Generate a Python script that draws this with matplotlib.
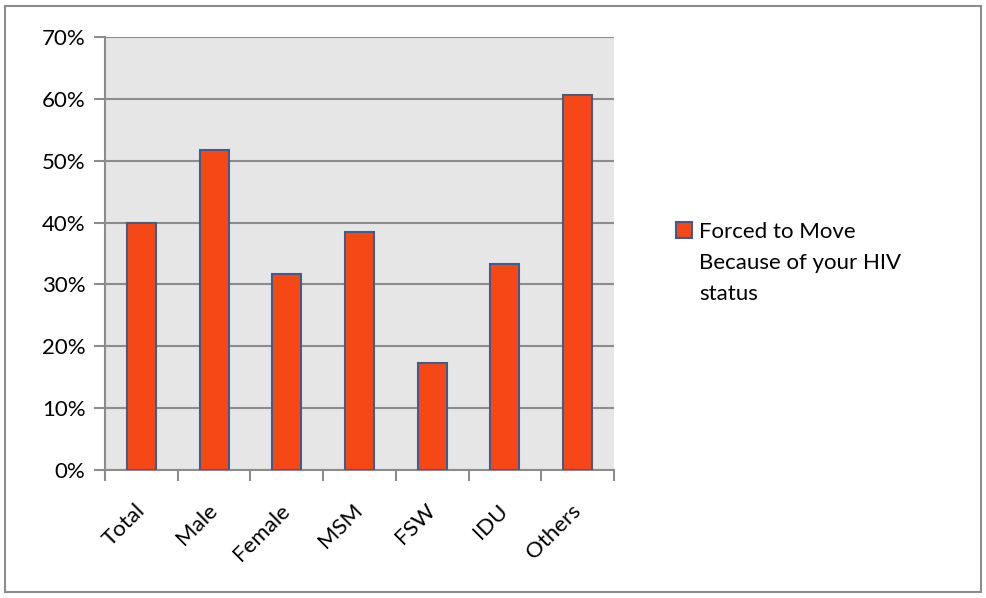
import matplotlib
matplotlib.use("Agg")
import matplotlib.pyplot as plt
from matplotlib.patches import Rectangle
from matplotlib.ticker import FixedLocator, PercentFormatter

categories = ["Total", "Male", "Female", "MSM", "FSW", "IDU", "Others"]
values = [40.0, 51.7, 31.7, 38.5, 17.3, 33.3, 60.6]
yticks = [0, 10, 20, 30, 40, 50, 60, 70]
series_lines = ["Forced to Move", "Because of your HIV", "status"]

plt.rcParams['font.family'] = ['Lato', 'DejaVu Sans']
FS = 16

fig = plt.figure(figsize=(9.87, 5.98), dpi=100)
fig.patches.append(Rectangle((5/987, 6/598), 976/987, 586/598, transform=fig.transFigure,
                             fill=False, edgecolor="#8c8c8c", linewidth=1.5))
ax = fig.add_axes([105/987, (598-470)/598, 509/987, 433/598])
ax.set_facecolor("#e6e6e6")

x = list(range(len(categories)))
ax.bar(x, values, width=0.4, color="#f64817", edgecolor="#3e5d8c", linewidth=1.5,
       label=series_lines[0], zorder=3)

ax.set_xlim(-0.5, len(categories) - 0.5)
ax.set_ylim(0, 70)
ax.set_yticks(yticks)
ax.yaxis.set_major_formatter(PercentFormatter(decimals=0))
ax.yaxis.grid(True, color="#8c8c8c", linewidth=1.5, zorder=1)
ax.set_xticks(x)
ax.set_xticklabels(categories, rotation=45, ha="right", va="center", rotation_mode="anchor")
ax.tick_params(axis="x", which="major", length=0, pad=27, labelsize=FS)
ax.xaxis.set_minor_locator(FixedLocator([i - 0.5 for i in range(len(categories) + 1)]))
ax.tick_params(axis="x", which="minor", length=8, width=1.5, color="#8c8c8c")
ax.tick_params(axis="y", length=8, width=1.5, color="#8c8c8c", labelsize=FS, pad=6)

for s in ["top", "right"]:
    ax.spines[s].set_visible(False)
for s in ["left", "bottom"]:
    ax.spines[s].set_color("#8c8c8c")
    ax.spines[s].set_linewidth(1.5)

leg = fig.legend(loc="upper left", bbox_to_anchor=(658/987, 1 - 204/598), frameon=False,
                 fontsize=FS, handlelength=0.75, handleheight=0.75, handletextpad=0.3,
                 borderpad=0.3)

fig.canvas.draw()
t = leg.get_texts()[0]
bb = t.get_window_extent()
x0 = bb.x0 / fig.bbox.width
y_base = bb.y0 / fig.bbox.height
dy = 31 / fig.bbox.height
for i, line in enumerate(series_lines[1:], start=1):
    fig.text(x0, y_base - i * dy, line, fontsize=FS, ha="left", va="bottom")

fig.savefig("out.png", dpi=100)
